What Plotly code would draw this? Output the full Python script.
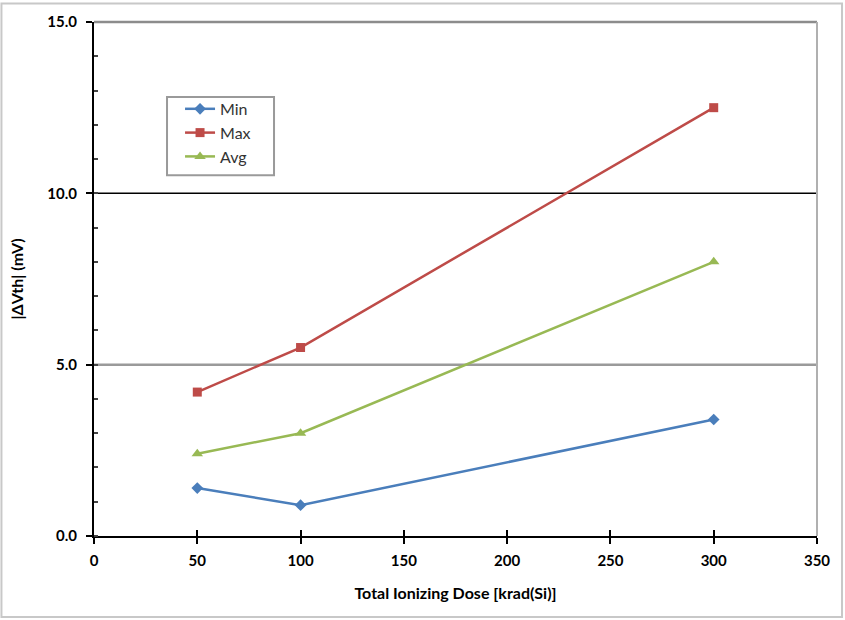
import plotly.graph_objects as go

# Threshold voltage shift vs. total ionizing dose
dose = [50, 100, 300]
dvth_min = [1.4, 0.9, 3.4]
dvth_max = [4.2, 5.5, 12.5]
dvth_avg = [2.4, 3.0, 8.0]

x_ticks = [0, 50, 100, 150, 200, 250, 300, 350]
y_ticks = [0, 5, 10, 15]
y_tick_text = ["0.0", "5.0", "10.0", "15.0"]

FONT = "Lato"
blue, red, green = "#4A7EBB", "#BE4B48", "#98B954"

fig = go.Figure()
fig.add_trace(go.Scatter(x=dose, y=dvth_min, name="Min", mode="lines+markers",
                         line=dict(color=blue, width=2.5),
                         marker=dict(symbol="diamond", size=9, color=blue)))
fig.add_trace(go.Scatter(x=dose, y=dvth_max, name="Max", mode="lines+markers",
                         line=dict(color=red, width=2.5),
                         marker=dict(symbol="square", size=9, color=red)))
fig.add_trace(go.Scatter(x=dose, y=dvth_avg, name="Avg", mode="lines+markers",
                         line=dict(color=green, width=2.5),
                         marker=dict(symbol="triangle-up", size=10, color=green)))

# Horizontal gridlines, plot-area frame, legend box, outer border
shapes = [
    dict(type="line", xref="paper", yref="y", x0=0, x1=1, y0=10, y1=10,
         line=dict(color="black", width=1.5), layer="below"),
    dict(type="line", xref="paper", yref="y", x0=0, x1=1, y0=5, y1=5,
         line=dict(color="#9a9a9a", width=2.5), layer="below"),
    dict(type="line", xref="paper", yref="paper", x0=0, x1=1, y0=1, y1=1,
         line=dict(color="#8c8c8c", width=2.5)),
    dict(type="line", xref="paper", yref="paper", x0=1, x1=1, y0=0, y1=1,
         line=dict(color="#b0b0b0", width=2)),
    dict(type="rect", xref="paper", yref="paper",
         x0=0.101, x1=0.249, y0=0.702, y1=0.854,
         line=dict(color="#9a9a9a", width=2), fillcolor="white", layer="below"),
    dict(type="rect", xref="paper", yref="paper",
         x0=-0.128, x1=1.0346, y0=-0.1576, y1=1.036,
         line=dict(color="#c8c8c8", width=2)),
]

fig.update_layout(
    width=845, height=620,
    margin=dict(l=94, r=28, t=22, b=84),
    paper_bgcolor="white", plot_bgcolor="white",
    font=dict(family=FONT, color="black", size=15),
    shapes=shapes,
    showlegend=True,
    legend=dict(x=0.119, y=0.864, xanchor="left", yanchor="top",
                borderwidth=0, bgcolor="rgba(0,0,0,0)",
                font=dict(family=FONT, size=16, color="#333333"),
                itemwidth=30, tracegroupgap=0),
    xaxis=dict(range=[0, 350], tickvals=x_ticks, showgrid=False, zeroline=False,
               showline=True, linecolor="black", linewidth=2,
               ticks="outside", ticklen=6, tickwidth=2, tickcolor="black",
               ticklabelstandoff=4,
               tickfont=dict(family=FONT, size=15, color="black", weight="bold"),
               title=dict(text="Total Ionizing Dose [krad(Si)]", standoff=20,
                          font=dict(family=FONT, size=16, weight="bold"))),
    xaxis2=dict(range=[0, 350], tickvals=x_ticks, overlaying="x", anchor="y",
                side="bottom", showgrid=False, zeroline=False, showticklabels=False,
                ticks="inside", ticklen=6, tickwidth=2, tickcolor="black"),
    yaxis=dict(range=[0, 15], tickvals=y_ticks, ticktext=y_tick_text,
               showgrid=False, zeroline=False,
               showline=True, linecolor="black", linewidth=2,
               ticks="outside", ticklen=6, tickwidth=2, tickcolor="black",
               ticklabelstandoff=6,
               minor=dict(dtick=1, ticks="inside", ticklen=4, tickwidth=1.5,
                          tickcolor="#444444", showgrid=False),
               tickfont=dict(family=FONT, size=15, color="black", weight="bold"),
               title=dict(text="|ΔVth| (mV)", standoff=20,
                          font=dict(family=FONT, size=16, weight="bold"))),
)

# invisible trace to activate the inside-tick x axis
fig.add_trace(go.Scatter(x=[0], y=[0], xaxis="x2", mode="markers",
                         marker=dict(opacity=0), showlegend=False, hoverinfo="skip"))

fig.write_html("out.html")
